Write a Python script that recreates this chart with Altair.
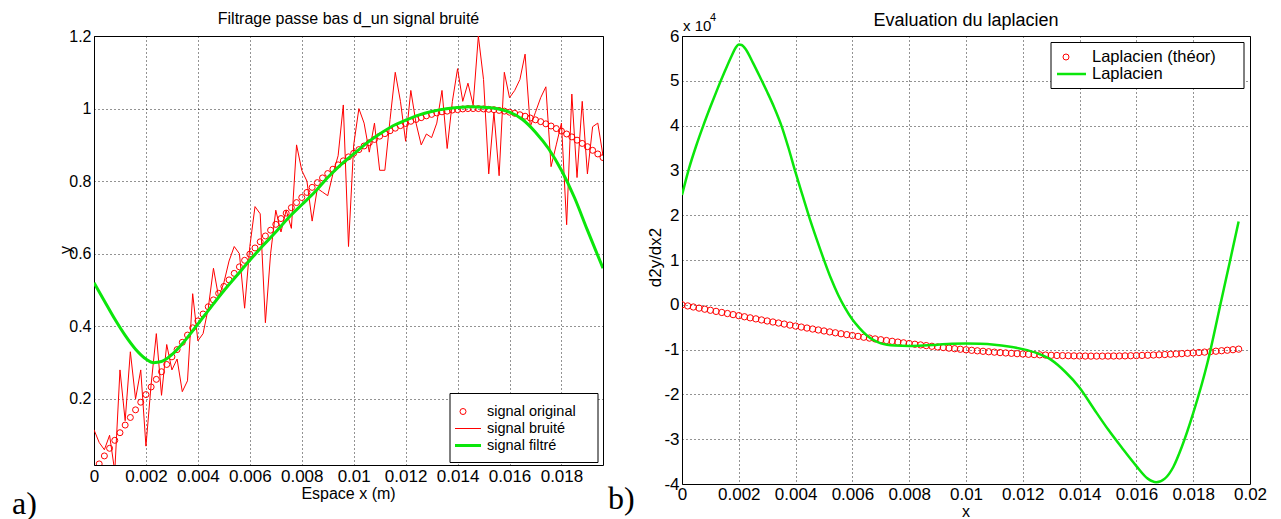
import altair as alt
import pandas as pd

# ---------------- data ----------------
# sample positions in mm
x_mm = [0.0, 0.2, 0.4, 0.6, 0.8, 1.0, 1.2, 1.4, 1.6, 1.8,
        2.0, 2.2, 2.4, 2.6, 2.8, 3.0, 3.2, 3.4, 3.6, 3.8,
        4.0, 4.2, 4.4, 4.6, 4.8, 5.0, 5.2, 5.4, 5.6, 5.8,
        6.0, 6.2, 6.4, 6.6, 6.8, 7.0, 7.2, 7.4, 7.6, 7.8,
        8.0, 8.2, 8.4, 8.6, 8.8, 9.0, 9.2, 9.4, 9.6, 9.8,
        10.0, 10.2, 10.4, 10.6, 10.8, 11.0, 11.2, 11.4, 11.6, 11.8,
        12.0, 12.2, 12.4, 12.6, 12.8, 13.0, 13.2, 13.4, 13.6, 13.8,
        14.0, 14.2, 14.4, 14.6, 14.8, 15.0, 15.2, 15.4, 15.6, 15.8,
        16.0, 16.2, 16.4, 16.6, 16.8, 17.0, 17.2, 17.4, 17.6, 17.8,
        18.0, 18.2, 18.4, 18.6, 18.8, 19.0, 19.2, 19.4, 19.6]

signal_original = [0.0, 0.021, 0.043, 0.064, 0.086, 0.107, 0.128, 0.149, 0.170, 0.191,
                   0.212, 0.233, 0.254, 0.275, 0.295, 0.316, 0.336, 0.356, 0.376, 0.396,
                   0.415, 0.434, 0.454, 0.473, 0.491, 0.510, 0.528, 0.546, 0.564, 0.582,
                   0.599, 0.616, 0.633, 0.649, 0.665, 0.681, 0.697, 0.712, 0.727, 0.741,
                   0.755, 0.769, 0.783, 0.796, 0.809, 0.821, 0.833, 0.845, 0.856, 0.867,
                   0.877, 0.887, 0.897, 0.906, 0.915, 0.924, 0.931, 0.939, 0.946, 0.953,
                   0.959, 0.965, 0.970, 0.975, 0.980, 0.984, 0.988, 0.991, 0.993, 0.996,
                   0.997, 0.999, 1.000, 1.000, 1.000, 0.999, 0.998, 0.997, 0.995, 0.993,
                   0.990, 0.987, 0.983, 0.979, 0.974, 0.969, 0.964, 0.958, 0.952, 0.945,
                   0.938, 0.930, 0.922, 0.913, 0.904, 0.895, 0.885, 0.875, 0.865]

signal_bruite = [0.115, 0.08, 0.06, 0.10, 0.00, 0.28, 0.14, 0.33, 0.20, 0.28,
                 0.07, 0.24, 0.38, 0.21, 0.35, 0.28, 0.31, 0.22, 0.25, 0.49,
                 0.36, 0.38, 0.45, 0.56, 0.48, 0.52, 0.58, 0.62, 0.60, 0.45,
                 0.62, 0.73, 0.71, 0.41, 0.60, 0.72, 0.66, 0.72, 0.67, 0.90,
                 0.83, 0.80, 0.69, 0.78, 0.77, 0.76, 0.82, 0.87, 1.01, 0.62,
                 0.90, 1.00, 0.96, 0.88, 0.96, 0.83, 0.83, 0.97, 1.10, 1.02,
                 0.91, 1.05, 0.96, 0.90, 0.93, 0.92, 0.96, 1.05, 0.89, 1.02,
                 1.11, 1.02, 1.07, 1.01, 1.20, 1.08, 0.82, 0.99, 0.815, 1.10,
                 1.03, 1.05, 1.08, 1.15, 0.95, 0.99, 1.03, 1.06, 0.84, 0.90,
                 0.96, 0.68, 1.04, 0.81, 1.02, 0.82, 0.95, 0.96, 0.87]

laplacien_theor = [0.0, -0.025, -0.049, -0.074, -0.098, -0.122, -0.147, -0.171, -0.195, -0.219,
                   -0.243, -0.267, -0.291, -0.314, -0.338, -0.361, -0.384, -0.407, -0.430, -0.453,
                   -0.475, -0.497, -0.519, -0.541, -0.562, -0.584, -0.605, -0.625, -0.646, -0.666,
                   -0.686, -0.705, -0.724, -0.743, -0.762, -0.780, -0.798, -0.815, -0.832, -0.849,
                   -0.865, -0.881, -0.896, -0.911, -0.926, -0.940, -0.954, -0.967, -0.980, -0.992,
                   -1.004, -1.016, -1.027, -1.038, -1.048, -1.057, -1.067, -1.075, -1.083, -1.091,
                   -1.098, -1.105, -1.111, -1.117, -1.122, -1.127, -1.131, -1.134, -1.137, -1.140,
                   -1.142, -1.144, -1.145, -1.145, -1.145, -1.144, -1.143, -1.142, -1.140, -1.137,
                   -1.134, -1.130, -1.126, -1.121, -1.116, -1.110, -1.104, -1.097, -1.090, -1.082,
                   -1.074, -1.065, -1.056, -1.046, -1.036, -1.025, -1.014, -1.002, -0.990]

# filtered signal (left panel)
filt_x_mm = [0.0, 0.4, 0.8, 1.2, 1.6, 2.0, 2.3, 2.6, 3.0, 3.4, 3.8, 4.2, 4.6, 5.0, 5.5,
             6.0, 6.5, 7.0, 7.5, 8.0, 8.5, 9.0, 9.5, 10.0, 10.5, 11.0, 11.5, 12.0, 12.5,
             13.0, 13.5, 14.0, 14.5, 15.0, 15.5, 16.0, 16.5, 17.0, 17.5, 18.0, 18.5, 19.0, 19.6]
filt_y = [0.52, 0.47, 0.42, 0.375, 0.337, 0.31, 0.300, 0.303, 0.322, 0.352, 0.388, 0.425, 0.462, 0.498, 0.540,
          0.582, 0.622, 0.66, 0.70, 0.735, 0.77, 0.81, 0.845, 0.875, 0.905, 0.93, 0.952, 0.968, 0.982,
          0.992, 0.999, 1.003, 1.005, 1.004, 1.0, 0.99, 0.97, 0.935, 0.89, 0.83, 0.755, 0.665, 0.56]

# computed laplacian (right panel), units of 1e4
lap_x_mm = [0.0, 0.25, 0.5, 0.75, 1.0, 1.25, 1.5, 1.75, 1.9, 2.0, 2.1, 2.25, 2.5, 2.75, 3.0, 3.25,
            3.5, 3.75, 4.0, 4.25, 4.5, 4.75, 5.0, 5.25, 5.5, 5.75, 6.0, 6.25, 6.5, 6.75, 7.0,
            7.5, 8.0, 8.5, 9.0, 9.5, 10.0, 10.5, 11.0, 11.5, 12.0, 12.5, 13.0, 13.5, 14.0, 14.5,
            15.0, 15.5, 16.0, 16.4, 16.7, 17.0, 17.3, 17.6, 18.0, 18.5, 19.0, 19.3, 19.6]
lap_y = [2.45, 3.05, 3.55, 4.0, 4.42, 4.82, 5.2, 5.56, 5.75, 5.81, 5.80, 5.70, 5.40, 5.08, 4.75, 4.40,
         4.00, 3.50, 2.95, 2.43, 1.92, 1.45, 1.0, 0.58, 0.22, -0.08, -0.33, -0.52, -0.68, -0.79, -0.86,
         -0.91, -0.92, -0.91, -0.89, -0.87, -0.865, -0.87, -0.89, -0.93, -0.99, -1.08, -1.23, -1.50, -1.85, -2.32,
         -2.78, -3.2, -3.6, -3.88, -3.96, -3.88, -3.62, -3.17, -2.42, -1.3, 0.13, 0.99, 1.86]

left_xticks = [0, 0.002, 0.004, 0.006, 0.008, 0.01, 0.012, 0.014, 0.016, 0.018]
left_yticks = [0.2, 0.4, 0.6, 0.8, 1, 1.2]
right_xticks = [0, 0.002, 0.004, 0.006, 0.008, 0.01, 0.012, 0.014, 0.016, 0.018, 0.02]
right_yticks = [-4, -3, -2, -1, 0, 1, 2, 3, 4, 5, 6]

# ---------------- tables ----------------
df = pd.DataFrame({
    "x": [v / 1000 for v in x_mm],
    "orig": signal_original,
    "noisy": signal_bruite,
    "lap": laplacien_theor,
})
df_left_orig = df.iloc[1:].reset_index(drop=True)
df_filt = pd.DataFrame({"x": [v / 1000 for v in filt_x_mm], "v": filt_y})
df_lap = pd.DataFrame({"x": [v / 1000 for v in lap_x_mm], "v": lap_y})
one = pd.DataFrame({"d": [0]})

RED = "#ff0000"
GREEN = "#0be60b"
SANS = "Liberation Sans"
SERIF = "Liberation Serif"
LAB = "'' + datum.value"

LW, LH = 509, 429
RW, RH = 568, 448


def txt(s, x, y, size, align="center", baseline="alphabetic", angle=None, font=SANS):
    kw = dict(text=s, fontSize=size, align=align, baseline=baseline, font=font, color="#000")
    if angle is not None:
        kw["angle"] = angle
    return alt.Chart(one).mark_text(**kw).encode(x=alt.value(x), y=alt.value(y))


def box(x1, x2, y1, y2):
    return alt.Chart(one).mark_rect(fill="white", stroke="black", strokeWidth=1).encode(
        x=alt.value(x1), x2=alt.value(x2), y=alt.value(y1), y2=alt.value(y2))


def seg(x1, x2, y, color, w):
    return alt.Chart(one).mark_rule(color=color, strokeWidth=w).encode(
        x=alt.value(x1), x2=alt.value(x2), y=alt.value(y))


def dot(x, y):
    return alt.Chart(one).mark_point(shape="circle", filled=False, color=RED, size=36,
                                     strokeWidth=1, opacity=1).encode(x=alt.value(x), y=alt.value(y))


# ---------------- left panel ----------------
lx_axis = alt.Axis(values=left_xticks, labelExpr=LAB, labelFontSize=17, labelPadding=3)
ly_axis = alt.Axis(values=left_yticks, labelExpr=LAB, labelFontSize=16, labelPadding=3)
lx_scale = alt.Scale(domain=[0, 0.0196], nice=False, zero=False)
ly_scale = alt.Scale(domain=[0.018, 1.2], nice=False, zero=False)


def LX(f):
    return alt.X(f, type="quantitative", scale=lx_scale, axis=lx_axis, title=None)


def LY(f):
    return alt.Y(f, type="quantitative", scale=ly_scale, axis=ly_axis, title=None)


l_orig = alt.Chart(df_left_orig).mark_point(shape="circle", filled=False, color=RED, size=36,
                                            strokeWidth=1, opacity=1, clip=True).encode(x=LX("x"), y=LY("orig"))
l_noisy = alt.Chart(df).mark_line(color=RED, strokeWidth=1, clip=True).encode(x=LX("x"), y=LY("noisy"))
l_filt = alt.Chart(df_filt).mark_line(color=GREEN, strokeWidth=3, clip=True,
                                      interpolate="monotone").encode(x=LX("x"), y=LY("v"))

left = alt.layer(
    l_orig, l_noisy, l_filt,
    box(356, 504, 357.5, 426.5),
    dot(369, 375.5),
    seg(361, 387, 392.5, RED, 1),
    seg(361, 387, 409.5, GREEN, 3),
    txt("signal original", 393, 375.5, 14.5, align="left", baseline="middle"),
    txt("signal bruité", 393, 392.5, 14.5, align="left", baseline="middle"),
    txt("signal filtré", 393, 409.5, 14.5, align="left", baseline="middle"),
    txt("Filtrage passe bas d_un signal bruité", 254.5, -12, 16),
    txt("Espace x (m)", 254.5, 462.8, 16),
    txt("y", -28, 214, 16, baseline="middle", angle=270),
    txt("a)", -82, 477.5, 32, align="left", font=SERIF),
).properties(width=LW, height=LH)

# ---------------- right panel ----------------
rx_axis = alt.Axis(values=right_xticks, labelExpr=LAB, labelFontSize=17, labelPadding=2)
ry_axis = alt.Axis(values=right_yticks, labelExpr=LAB, labelFontSize=17, labelPadding=3)
rx_scale = alt.Scale(domain=[0, 0.02], nice=False, zero=False)
ry_scale = alt.Scale(domain=[-4, 6], nice=False, zero=False)


def RX(f):
    return alt.X(f, type="quantitative", scale=rx_scale, axis=rx_axis, title=None)


def RY(f):
    return alt.Y(f, type="quantitative", scale=ry_scale, axis=ry_axis, title=None)


r_theor = alt.Chart(df).mark_point(shape="circle", filled=False, color=RED, size=40,
                                   strokeWidth=1, opacity=1, clip=True).encode(x=RX("x"), y=RY("lap"))
r_lap = alt.Chart(df_lap).mark_line(color=GREEN, strokeWidth=2.5, clip=True,
                                    interpolate="monotone").encode(x=RX("x"), y=RY("v"))

right = alt.layer(
    r_theor, r_lap,
    box(369, 562, 6.5, 52.5),
    dot(384, 21),
    seg(375, 404, 38, GREEN, 2.5),
    txt("Laplacien (théor)", 410, 21, 16.5, align="left", baseline="middle"),
    txt("Laplacien", 410, 38, 16.5, align="left", baseline="middle"),
    txt("Evaluation du laplacien", 284, -10.5, 18),
    txt("x", 284, 480.5, 16),
    txt("d2y/dx2", -26, 221.5, 17, baseline="middle", angle=270),
    txt("x 10", 1, -4.8, 15, align="left"),
    txt("4", 28, -14.8, 11, align="left"),
    txt("b)", -74, 472.5, 32, align="left", font=SERIF),
).properties(width=RW, height=RH)

chart = alt.hconcat(left, right, spacing=79, bounds="flush").properties(
    padding={"left": 3, "top": 2, "right": 0, "bottom": 0},
    background="white",
).configure(font=SANS).configure_view(
    stroke="#000", strokeWidth=1
).configure_axis(
    grid=True, gridColor="#000", gridDash=[1, 3], gridWidth=1, gridOpacity=0.85,
    domain=False, ticks=False, labelColor="#000", labelFont=SANS,
    labelFlush=False, labelOverlap=False, labelBound=False,
)

chart.save("out.html", embed_options={"renderer": "svg", "actions": False})
